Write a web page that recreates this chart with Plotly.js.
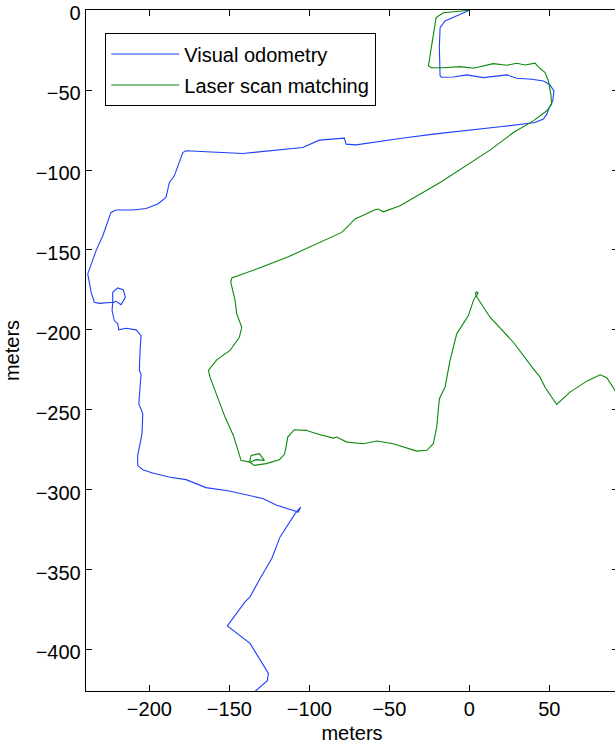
<!DOCTYPE html>
<html>
<head>
<meta charset="utf-8">
<script src="https://cdn.plot.ly/plotly-3.0.1.min.js"></script>
<style>html,body{margin:0;padding:0;overflow:hidden;background:#fff;}</style>
</head>
<body>
<div id="chart"></div>
<script>
// Visual odometry path (meters)
const voX = [0,-15.2,-18.3,-18.75,-18.3,-17.3,-10,-1.6,8.75,23.4,29.6,39,46.25,50,52.9,52.1,50,48.4,46.25,41.1,19.2,-1.6,-22.5,-43.3,-70.8,-77.1,-78.1,-93.75,-104.1,-141.6,-177.1,-179.1,-182.25,-184.4,-187.5,-189.6,-194.75,-202,-210.4,-220.8,-224,-227,-229.1,-233.3,-238.5,-236.4,-234.4,-231.25,-222.9,-222.9,-219.75,-216.25,-215,-217.7,-220.8,-222.9,-223.3,-221.9,-219.75,-219.1,-214.6,-208.3,-205.2,-205.8,-206.25,-205.2,-206.6,-204.1,-204.6,-205.8,-207.3,-207.3,-204.1,-197.9,-187.8,-177.1,-164.6,-150,-129.1,-120.4,-106.9,-105.4,-108.9,-118.3,-123.5,-130.8,-137.1,-140.25,-151.25,-137.1,-130.8,-125.6,-126.25,-132.9,-136];
const voY = [0,-6.7,-10.9,-23.4,-41.1,-41.9,-41.7,-40.4,-42.1,-40.4,-42.5,-43.1,-44.2,-46.25,-50.4,-56.7,-60.9,-65,-68.1,-70.25,-72.9,-75,-77.5,-80.25,-84.2,-83.75,-80,-81.25,-85.9,-89.6,-87.9,-89,-98.4,-103.6,-107.75,-117.1,-121.25,-124,-125,-125,-126.5,-135.9,-141.1,-150.4,-165,-176.5,-182.75,-183.4,-182.75,-176.5,-173.75,-175,-179.6,-184.2,-182.1,-183,-187.9,-194.2,-196.25,-200,-199,-200,-203.6,-213,-225.4,-227.9,-246.25,-252.5,-265,-271.25,-278.6,-284.8,-287.5,-289.6,-292.1,-293.75,-298.75,-300.9,-305.6,-309.8,-314,-310.9,-315,-329.6,-343.1,-355.6,-367.1,-370.25,-385.25,-396.25,-406.7,-415,-419.6,-425.4,-428];

// Laser scan matching path (meters)
const lsX = [0,-16.25,-20.8,-22.5,-25.6,-23.5,-16.25,-5.8,2.5,15,23.4,29.6,34.8,41.1,43.1,47.3,49.4,50.9,51.5,48.4,40,27.5,12.9,-18.3,-28.75,-43.3,-53.75,-56.9,-58.9,-71.4,-79.75,-95.4,-113.1,-132.9,-143.3,-148.5,-149.1,-146.4,-145.4,-142.25,-143.75,-149.6,-157.9,-163.1,-162.1,-157.9,-152.7,-147.5,-143.3,-142.7,-137.5,-136.4,-131.25,-128.1,-133.3,-137.1,-134.4,-127.1,-118.75,-115.6,-114.6,-113.5,-109.4,-102.1,-95.4,-85,-82.9,-76.6,-66.25,-57.9,-47.5,-32.9,-26.6,-22.5,-20.4,-18.75,-15.2,-12.1,-7.9,-0.6,2.5,4.2,3.8,4.6,5.4,4.8,4.3,12.9,27.5,40,44.2,47.3,54.6,62.9,73.4,81.7,85.9,91,95];
const lsY = [0,-1.5,-4.6,-15,-34.8,-35.9,-35.9,-35.25,-36.25,-33.4,-34.4,-33.1,-34.2,-33.1,-35.4,-39,-44.2,-52.5,-58.75,-62.9,-69.2,-76.5,-87.5,-107.75,-114,-122.3,-126.1,-124.4,-124.8,-130.6,-139,-146.25,-154.2,-161.9,-165.4,-167.5,-170.25,-181.7,-190,-198.4,-204.6,-212.9,-218.75,-225.4,-229.6,-241.1,-254.6,-266.1,-279.6,-281.7,-282.75,-278.6,-277.5,-281.7,-281.25,-282.9,-284.8,-283.75,-281.25,-277.9,-273.4,-267.1,-262.5,-262.9,-265,-267.75,-267.1,-270.25,-271.25,-269.6,-271.25,-275.9,-275.4,-271.25,-260.9,-243.1,-235.9,-219.2,-202.5,-191.1,-181.7,-178.6,-177,-176.2,-177,-178.2,-178.8,-192.1,-207.75,-224.4,-229.6,-235.9,-246.7,-239,-232.1,-228.1,-230,-238,-245];

const xTicks = [-200,-150,-100,-50,0,50];
const yTicks = [0,-50,-100,-150,-200,-250,-300,-350,-400];
const seriesNames = ['Visual odometry','Laser scan matching'];

const font = {family:'"Liberation Sans", Arial, Helvetica, sans-serif', size:20, color:'#000'};

const traces = [
  {x:voX, y:voY, type:'scatter', mode:'lines', name:seriesNames[0], legendgroup:'a',
   line:{color:'#1f3fff', width:1.1}},
  {x:lsX, y:lsY, type:'scatter', mode:'lines', name:seriesNames[1], legendgroup:'b',
   line:{color:'#0a880a', width:1.1}}
];

const axisCommon = {
  showline:true, linecolor:'#000', linewidth:1.3, mirror:'ticks',
  ticks:'inside', ticklen:6, tickwidth:1, tickcolor:'#000',
  showgrid:false, zeroline:false, tickfont:font, ticklabeloverflow:'allow'
};

const layout = {
  width:620, height:744,
  margin:{l:86, r:2, t:10, b:53},
  paper_bgcolor:'#fff', plot_bgcolor:'#fff',
  font:font,
  showlegend:true,
  legend:{x:0.0357, y:0.966, xanchor:'left', yanchor:'top',
    bgcolor:'#fff', bordercolor:'#000', borderwidth:1.3,
    font:font, traceorder:'grouped', tracegroupgap:2, itemwidth:68},
  xaxis:Object.assign({}, axisCommon, {
    range:[-239.6, 92.9], tickvals:xTicks, ticktext:xTicks.map(v=>v<0?'\u2212'+Math.abs(v):String(v)),
    title:{text:'meters', font:font, standoff:9}
  }),
  yaxis:Object.assign({}, axisCommon, {
    range:[-426.05, 0.2], tickvals:yTicks, ticktext:yTicks.map(v=>v<0?'\u2212'+Math.abs(v):String(v)),
    ticklabelshift:3,
    title:{text:'meters', font:font, standoff:10}
  })
};

Plotly.newPlot('chart', traces, layout, {displayModeBar:false, staticPlot:true});
</script>
</body>
</html>
